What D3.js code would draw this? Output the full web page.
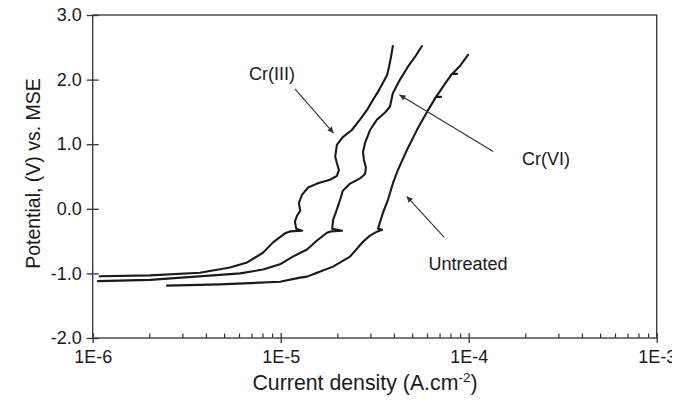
<!DOCTYPE html>
<html><head><meta charset="utf-8">
<script src="https://cdn.jsdelivr.net/npm/d3@7"></script>
<style>
body{margin:0;background:#fff}
svg{display:block;font-family:"Liberation Sans",Arial,Helvetica,sans-serif}
</style>
</head><body>
<svg id="chart" width="692" height="405"></svg>
<script>
// ---------- data ----------
const xTickValues = [1e-6, 1e-5, 1e-4, 1e-3];
const xTickLabels = ["1E-6", "1E-5", "1E-4", "1E-3"];
const yTickValues = [-2, -1, 0, 1, 2, 3];
const xTitle = "Current density (A.cm";
const xTitleSup = "-2";
const yTitle = "Potential, (V) vs. MSE";

// [current density (A/cm2), potential (V vs MSE)]
const crIII = [
  [1.09e-6,-1.045],[2.02e-6,-1.03],[3.72e-6,-0.99],[5.37e-6,-0.91],[6.62e-6,-0.83],
  [8.05e-6,-0.68],[9.10e-6,-0.52],[1.054e-5,-0.38],[1.12e-5,-0.35],[1.30e-5,-0.34],
  [1.21e-5,-0.31],[1.19e-5,-0.20],[1.22e-5,-0.11],[1.27e-5,-0.03],[1.25e-5,0.09],
  [1.30e-5,0.22],[1.40e-5,0.33],[1.56e-5,0.39],[1.83e-5,0.45],[1.99e-5,0.51],
  [2.04e-5,0.60],[1.99e-5,0.71],[1.95e-5,0.81],[1.99e-5,0.99],[2.14e-5,1.11],
  [2.39e-5,1.22],[2.64e-5,1.38],[2.88e-5,1.53],[3.10e-5,1.69],[3.29e-5,1.81],
  [3.50e-5,1.95],[3.68e-5,2.07],[3.77e-5,2.20],[3.86e-5,2.35],[3.95e-5,2.52]
];
const crVI = [
  [1.067e-6,-1.12],[2.02e-6,-1.10],[4.36e-6,-1.03],[6.08e-6,-1.00],[8.05e-6,-0.94],
  [9.91e-6,-0.86],[1.16e-5,-0.74],[1.38e-5,-0.63],[1.56e-5,-0.49],[1.76e-5,-0.37],
  [1.85e-5,-0.35],[2.12e-5,-0.34],[1.88e-5,-0.31],[1.90e-5,-0.17],[1.99e-5,-0.01],
  [2.07e-5,0.14],[2.14e-5,0.28],[2.34e-5,0.39],[2.64e-5,0.47],[2.81e-5,0.54],
  [2.84e-5,0.64],[2.77e-5,0.76],[2.74e-5,0.88],[2.81e-5,1.02],[2.99e-5,1.22],
  [3.25e-5,1.38],[3.59e-5,1.49],[3.81e-5,1.58],[3.95e-5,1.79],[4.31e-5,2.00],
  [4.75e-5,2.20],[5.18e-5,2.35],[5.64e-5,2.52]
];
const untreated = [
  [2.485e-6,-1.19],[4.754e-6,-1.17],[9.915e-6,-1.13],[1.267e-5,-1.065],[1.380e-5,-1.05],
  [1.560e-5,-0.99],[1.897e-5,-0.895],[2.337e-5,-0.74],[2.741e-5,-0.51],[2.985e-5,-0.415],
  [3.252e-5,-0.354],[3.458e-5,-0.323],[3.293e-5,-0.307],[3.500e-5,-0.06],[3.721e-5,0.14],
  [3.957e-5,0.40],[4.206e-5,0.604],[4.697e-5,0.913],[5.309e-5,1.222],[6.001e-5,1.50],
  [6.701e-5,1.733],[7.124e-5,1.733],[6.701e-5,1.733],[7.665e-5,1.98],[8.150e-5,2.088],
  [8.665e-5,2.088],[8.150e-5,2.088],[8.989e-5,2.212],[9.915e-5,2.382]
];
const seriesData = [crIII, crVI, untreated];

// annotations: label text, label anchor, arrow tail, arrow head (data units)
const annoText = ["Cr(III)", "Cr(VI)", "Untreated"];
const annoLabelAt = [[9.0e-6, 2.0], [2.58e-4, 0.68], [9.91e-5, -0.94]];
const annoFrom = [[1.19e-5, 1.856], [1.35e-4, 0.887], [7.41e-5, -0.442]];
const annoTo = [[1.91e-5, 1.172], [4.28e-5, 1.764], [4.68e-5, 0.192]];

// ---------- layout ----------
const W = 692, H = 405;
const margin = {left: 92.7, right: 35.3, top: 15, bottom: 67};
const svg = d3.select("#chart");
const x = d3.scaleLog().domain([1e-6, 1e-3]).range([margin.left, W - margin.right]);
const y = d3.scaleLinear().domain([-2, 3]).range([H - margin.bottom, margin.top]);
const ink = "#1a1a1a", axisInk = "#333";

const defs = svg.append("defs");
defs.append("marker")
  .attr("id", "ah").attr("viewBox", "0 0 10 10").attr("refX", 10).attr("refY", 5)
  .attr("markerWidth", 9).attr("markerHeight", 6).attr("markerUnits", "userSpaceOnUse")
  .attr("orient", "auto")
  .append("path").attr("d", "M0,0 L10,5 L0,10 z").attr("fill", axisInk);
// the source figure is cropped just right of its last tick label
defs.append("clipPath").attr("id", "crop")
  .append("rect").attr("x", 0).attr("y", 0).attr("width", 672).attr("height", H);

const root = svg.append("g").attr("clip-path", "url(#crop)");

// frame
root.append("rect")
  .attr("x", x.range()[0]).attr("y", y.range()[1])
  .attr("width", x.range()[1] - x.range()[0]).attr("height", y.range()[0] - y.range()[1])
  .attr("fill", "none").attr("stroke", axisInk).attr("stroke-width", 1.3);

// x axis (major)
const gx = root.append("g").attr("transform", `translate(0,${y(-2)})`)
  .call(d3.axisBottom(x).tickValues(xTickValues)
    .tickFormat((d, i) => xTickLabels[i]).tickSize(5).tickPadding(7));
gx.select(".domain").remove();
gx.selectAll(".tick line").attr("y1", -5).attr("y2", 5).attr("stroke", axisInk).attr("stroke-width", 1.3);
gx.selectAll(".tick text").attr("font-size", 18).attr("fill", ink)
  .style("font-family", "'Liberation Sans',Arial,sans-serif");

// x axis (minor)
const minor = [];
for (let e = -6; e < -3; e++) for (let m = 2; m <= 9; m++) minor.push(m * Math.pow(10, e));
const gxm = root.append("g").attr("transform", `translate(0,${y(-2)})`)
  .call(d3.axisBottom(x).tickValues(minor).tickFormat("").tickSize(-4.5));
gxm.select(".domain").remove();
gxm.selectAll(".tick line").attr("stroke", axisInk).attr("stroke-width", 1.2);

// y axis
const gy = root.append("g").attr("transform", `translate(${x(1e-6)},0)`)
  .call(d3.axisLeft(y).tickValues(yTickValues).tickFormat(d => d.toFixed(1))
    .tickSize(6).tickPadding(5));
gy.select(".domain").remove();
gy.selectAll(".tick line").attr("x1", -6).attr("x2", 6).attr("stroke", axisInk).attr("stroke-width", 1.3);
gy.selectAll(".tick text").attr("font-size", 18).attr("fill", ink)
  .style("font-family", "'Liberation Sans',Arial,sans-serif");

// curves
const line = d3.line().x(d => x(d[0])).y(d => y(d[1]));
root.append("g").selectAll("path").data(seriesData).join("path")
  .attr("d", line).attr("fill", "none").attr("stroke", ink)
  .attr("stroke-width", 2.1).attr("stroke-linejoin", "round").attr("stroke-linecap", "round");

// annotations
const ga = root.append("g");
annoText.forEach((t, i) => {
  ga.append("line")
    .attr("x1", x(annoFrom[i][0])).attr("y1", y(annoFrom[i][1]))
    .attr("x2", x(annoTo[i][0])).attr("y2", y(annoTo[i][1]))
    .attr("stroke", axisInk).attr("stroke-width", 1.1).attr("marker-end", "url(#ah)");
  ga.append("text").attr("x", x(annoLabelAt[i][0])).attr("y", y(annoLabelAt[i][1]))
    .attr("text-anchor", "middle").attr("font-size", 18).attr("fill", ink).text(t);
});

// axis titles
const xt = root.append("text").attr("x", 365).attr("y", 390)
  .attr("text-anchor", "middle").attr("font-size", 21.3).attr("fill", ink);
xt.append("tspan").text(xTitle);
xt.append("tspan").attr("font-size", 13.5).attr("dy", -8).text(xTitleSup);
xt.append("tspan").attr("dy", 8).text(")");

root.append("text").attr("transform", `translate(40,${y(0.5) - 3}) rotate(-90)`)
  .attr("text-anchor", "middle").attr("font-size", 19.5).attr("fill", ink).text(yTitle);
</script>
</body></html>
